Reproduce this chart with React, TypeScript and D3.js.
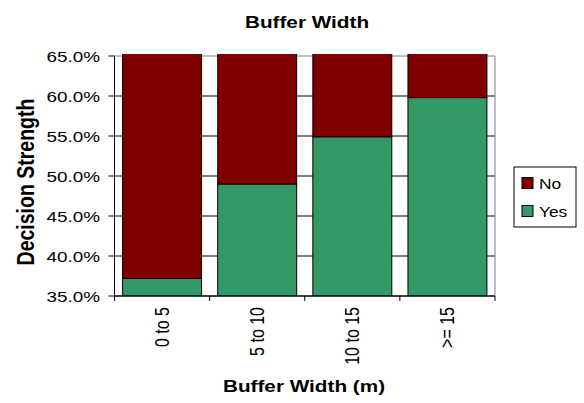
import React from "react";
import * as d3 from "d3";

const categories = ["0 to 5", "5 to 10", "10 to 15", ">= 15"];
const yesValues = [37.2, 49.0, 54.9, 59.8];
const noValues = [62.8, 51.0, 45.1, 40.2];
const yTicks = [35, 40, 45, 50, 55, 60, 65];
const seriesNames = ["No", "Yes"];
const seriesColors = ["#800000", "#339966"];

const W = 584;
const H = 403;
const plot = { left: 114.5, right: 495, top: 56, bottom: 296 };
const font = "Liberation Sans, Arial, sans-serif";
const SX = 1.22;

export default function App() {
  const x = d3
    .scaleBand<string>()
    .domain(categories)
    .range([plot.left, plot.right])
    .paddingInner(0.17)
    .paddingOuter(0.085);
  const y = d3.scaleLinear().domain([35, 65]).range([plot.bottom, plot.top]);
  const fmt = (v: number) => v.toFixed(1) + "%";
  const step = x.step();

  return (
    <svg
      width={W}
      height={H}
      style={{ position: "absolute", left: 0, top: 0, background: "#fff" }}
      fontFamily={font}
    >
      <defs>
        <clipPath id="plotClip">
          <rect x={plot.left} y={plot.top - 2} width={plot.right - plot.left} height={plot.bottom - plot.top + 2} />
        </clipPath>
      </defs>
      <g transform={`translate(307,28) scale(${SX},1)`}>
        <text x={0} y={0} textAnchor="middle" fontSize={17} fontWeight="bold">
          Buffer Width
        </text>
      </g>
      {/* gridlines */}
      {yTicks.map((t) => (
        <line key={"g" + t} x1={plot.left} x2={plot.right} y1={y(t)} y2={y(t)} stroke={t === 65 ? "#808080" : "#000"} strokeWidth={1} />
      ))}
      <line x1={plot.right} x2={plot.right} y1={plot.top} y2={plot.bottom} stroke="#808080" />
      {/* bars */}
      <g clipPath="url(#plotClip)">
        {categories.map((c, i) => {
          const x0 = x(c)!;
          const bw = x.bandwidth();
          const yes = yesValues[i];
          const no = noValues[i];
          return (
            <g key={c}>
              <rect x={x0} y={y(yes)} width={bw} height={y(35) - y(yes)} fill={seriesColors[1]} stroke="#000" strokeWidth={1} />
              <rect x={x0} y={y(yes + no)} width={bw} height={y(yes) - y(yes + no)} fill={seriesColors[0]} stroke="#000" strokeWidth={1} />
            </g>
          );
        })}
      </g>
      {/* axes */}
      <line x1={plot.left} x2={plot.left} y1={plot.top} y2={plot.bottom} stroke="#000" />
      <line x1={plot.left} x2={plot.right} y1={plot.bottom} y2={plot.bottom} stroke="#000" />
      {yTicks.map((t) => (
        <g key={"t" + t}>
          <line x1={plot.left - 6} x2={plot.left} y1={y(t)} y2={y(t)} stroke="#000" />
          <g transform={`translate(100,${y(t)}) scale(${SX},1)`}>
            <text x={0} y={0} dy="0.36em" textAnchor="end" fontSize={15.5}>
              {fmt(t)}
            </text>
          </g>
        </g>
      ))}
      {categories.map((c, i) => (
        <line key={"xt" + i} x1={plot.left + step * i} x2={plot.left + step * i} y1={plot.bottom} y2={plot.bottom + 5} stroke="#000" />
      ))}
      <line x1={plot.right} x2={plot.right} y1={plot.bottom} y2={plot.bottom + 5} stroke="#000" />
      {categories.map((c) => {
        const cx = x(c)! + x.bandwidth() / 2;
        return (
          <text
            key={"xl" + c}
            transform={`translate(${cx},${plot.bottom + 11}) scale(${SX},1) rotate(-90)`}
            textAnchor="end"
            dy="0.36em"
            fontSize={16}
          >
            {c}
          </text>
        );
      })}
      <g transform={`translate(304,392) scale(${SX},1)`}>
        <text x={0} y={0} textAnchor="middle" fontSize={17} fontWeight="bold">
          Buffer Width (m)
        </text>
      </g>
      <text
        transform={`translate(25,182) scale(${SX},1) rotate(-90)`}
        textAnchor="middle"
        dy="0.36em"
        fontSize={19.5}
        fontWeight="bold"
      >
        Decision Strength
      </text>
      {/* legend */}
      <rect x={514} y={167} width={62} height={60} fill="#fff" stroke="#000" />
      {seriesNames.map((s, i) => (
        <g key={s} transform={`translate(522,${183 + i * 28})`}>
          <rect x={0} y={-5.5} width={11} height={11} fill={seriesColors[i]} stroke="#000" />
          <g transform={`translate(17,0) scale(1.12,1)`}>
            <text x={0} y={0} dy="0.36em" fontSize={15.5}>
              {s}
            </text>
          </g>
        </g>
      ))}
    </svg>
  );
}
